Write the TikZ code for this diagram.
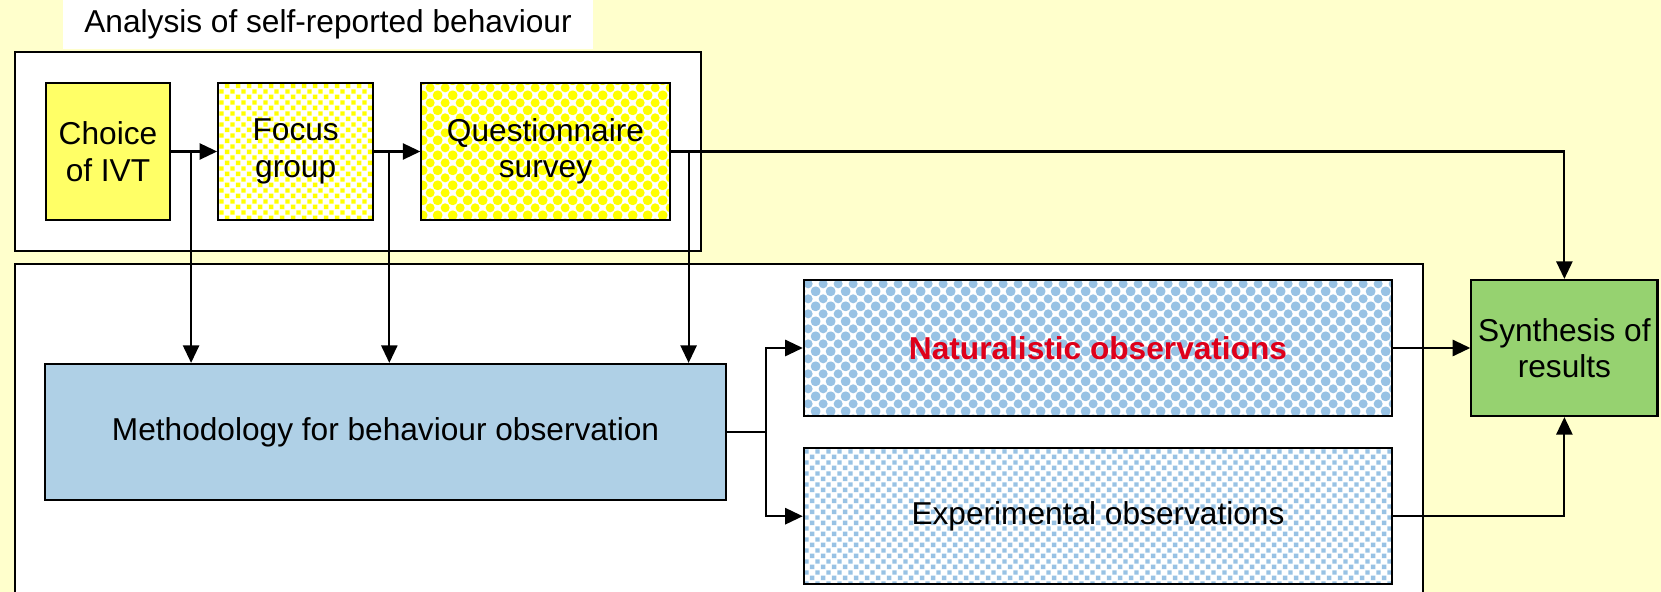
\documentclass[tikz,border=0pt]{standalone}
\usepackage{fontspec}
\setmainfont{Liberation Sans}
\usepackage{xcolor}
\usetikzlibrary{arrows.meta, positioning, calc, fit, backgrounds, patterns.meta}

\definecolor{canvas}{RGB}{255,255,204}
\definecolor{ivtyellow}{RGB}{255,255,102}
\definecolor{dotyellow}{RGB}{255,255,0}
\definecolor{methblue}{RGB}{175,208,230}
\definecolor{dotblue}{RGB}{152,194,228}
\definecolor{synthgreen}{RGB}{150,210,112}
\definecolor{natred}{RGB}{222,0,26}

\tikzdeclarepattern{
  name=squaredots,
  type=uncolored,
  bottom left={(0pt,0pt)},
  top right={(3.2pt,3.2pt)},
  tile size={(3.2pt,3.2pt)},
  code={
    \fill (0.3pt,0.3pt) rectangle (1.6pt,1.6pt);
    \fill (1.9pt,1.9pt) rectangle (3.2pt,3.2pt);
  }
}
\tikzdeclarepattern{
  name=spheres,
  type=uncolored,
  bottom left={(0pt,0pt)},
  top right={(4.3pt,4.3pt)},
  tile size={(4.3pt,4.3pt)},
  code={
    \fill (0pt,0pt) circle (1.35pt);
    \fill (4.3pt,0pt) circle (1.35pt);
    \fill (0pt,4.3pt) circle (1.35pt);
    \fill (4.3pt,4.3pt) circle (1.35pt);
    \fill (2.15pt,2.15pt) circle (1.35pt);
  }
}

\begin{document}
\begin{tikzpicture}[x=0.01cm, y=-0.01cm, node distance=0.46cm,
    box/.style={draw, line width=0.6pt, inner sep=0pt, align=center,
      font=\fontsize{9}{10.4}\selectfont},
    yellowsquares/.style={preaction={fill=white}, pattern=squaredots, pattern color=dotyellow},
    yellowspheres/.style={preaction={fill=white}, pattern=spheres, pattern color=dotyellow},
    bluespheres/.style={preaction={fill=white}, pattern=spheres, pattern color=dotblue},
    bluesquares/.style={preaction={fill=white}, pattern=squaredots, pattern color=dotblue},
    arr/.style={-{Triangle[length=5pt,width=4.6pt]}, line width=0.6pt},
    line/.style={line width=0.6pt}]
  \useasboundingbox (0,0) rectangle (1661,592);

  \node (title) [fill=white, minimum width=5.3cm, minimum height=0.49cm, inner sep=0pt,
    font=\fontsize{9}{10.4}\selectfont] at (328,24.5) {Analysis of self-reported behaviour};

  % self-reported part
  \node (choice) [box, fill=ivtyellow, minimum width=1.24cm, minimum height=1.37cm] at (108,151.5) {Choice\\of IVT};
  \node (focus) [box, yellowsquares, minimum width=1.55cm, minimum height=1.37cm, right=of choice] {Focus\\group};
  \node (quest) [box, yellowspheres, minimum width=2.48cm, minimum height=1.37cm, right=of focus] {Questionnaire\\survey};

  % observation part
  \node (meth) [box, fill=methblue, minimum width=6.81cm, minimum height=1.36cm] at (385.5,432) {Methodology for behaviour observation};
  \node (nat) [box, bluespheres, minimum width=5.88cm, minimum height=1.36cm] at (1098,348) {\textcolor{natred}{\bfseries Naturalistic observations}};
  \node (exp) [box, bluesquares, minimum width=5.88cm, minimum height=1.36cm, below=0.3cm of nat] {Experimental observations};
  \node (synth) [box, fill=synthgreen, minimum width=1.86cm, minimum height=1.36cm, right=0.77cm of nat] {Synthesis of\\results};

  \coordinate (j1) at ($(choice.east)+(20,0)$);
  \coordinate (j2) at ($(focus.east)+(15,0)$);
  \coordinate (j3) at ($(quest.east)+(18,0)$);
  \coordinate (split) at ($(meth.east)+(39,0)$);

  \draw[arr] (choice) -- (focus);
  \draw[arr] (focus) -- (quest);
  \draw[arr] (j1) -- (j1 |- meth.north);
  \draw[arr] (j2) -- (j2 |- meth.north);
  \draw[arr] (j3) -- (j3 |- meth.north);
  \draw[arr] (quest.east) -| (synth.north);
  \draw[line] (meth.east) -- (split);
  \draw[arr] (split) |- (nat.west);
  \draw[arr] (split) |- (exp.west);
  \draw[arr] (nat) -- (synth);
  \draw[arr] (exp.east) -| (synth.south);

  \begin{scope}[on background layer]
    \fill[canvas] (0,0) rectangle (1661,592);
    \node (selfrep) [draw, fill=white, line width=0.6pt, inner sep=0.3cm, fit=(choice)(quest)] {};
    \draw[fill=white, line width=0.6pt] (15,592) |- (1423,264) -- (1423,592);
  \end{scope}
\end{tikzpicture}
\end{document}
